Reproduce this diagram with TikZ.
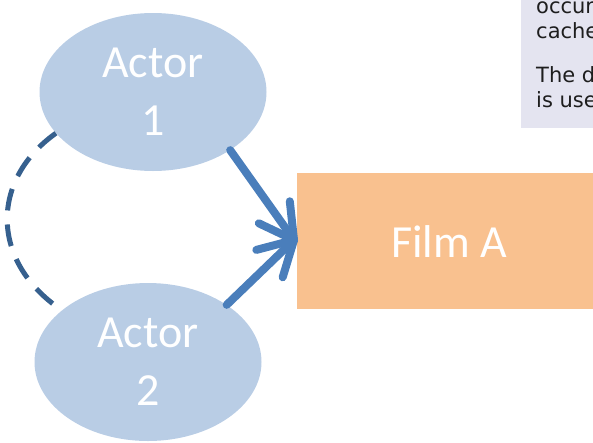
\documentclass[tikz,border=0pt]{standalone}
\usepackage{fontspec}
\setmainfont{Carlito}
\newfontfamily\boxfont{DejaVu Sans}
\usetikzlibrary{calc,shapes.geometric}
\definecolor{actorfill}{HTML}{B9CDE5}
\definecolor{filmfill}{HTML}{F9C18F}
\definecolor{boxfill}{HTML}{E4E4F0}
\definecolor{arrowblue}{HTML}{4A7EBB}
\definecolor{dashblue}{HTML}{36608E}
\definecolor{boxtext}{HTML}{1E1E1E}
\tikzset{
  actor/.style={ellipse, fill=actorfill, minimum width=227pt, minimum height=158pt, inner sep=0pt,
    text=white, font=\fontsize{46}{58}\selectfont, align=center},
  film/.style={rectangle, fill=filmfill, minimum width=304pt, minimum height=136pt, inner sep=0pt,
    text=white, font=\fontsize{46}{56}\selectfont},
  boxline/.style={anchor=base west, inner sep=0pt, text=boxtext, font=\boxfont\fontsize{21}{25}\selectfont},
  link/.style={draw=arrowblue, line width=8pt, line cap=round, line join=round},
  dashlink/.style={draw=dashblue, line width=5pt, dash pattern=on 22pt off 14pt}
}
\begin{document}
\begin{tikzpicture}[x=1pt,y=-1pt]
\useasboundingbox (0,0) rectangle (593,442);
\clip (0,0) rectangle (593,442);
% text box
\fill[boxfill] (521,-5) rectangle (600,128);
\node[boxline] (t1) at (536,13) {occur};
\node[boxline] (t2) at (536,38) {cache};
\node[boxline] (t3) at (536,82) {The d};
\node[boxline] (t4) at (536,107) {is use};
% nodes
\node[actor] (a1) at (153,92) {Actor\\1};
\node[actor] (a2) at (148,362) {Actor\\2};
\node[film, anchor=north west] (f) at (297,173) {Film A};
\coordinate (fa) at (294,240);
% connectors
\coordinate (s1) at (a1.-37);
\coordinate (s2) at (a2.36);
\coordinate (b1) at ($(fa)!34pt!(s1)$);
\coordinate (b2) at ($(fa)!34pt!(s2)$);
\coordinate (b1l) at ($(b1)!19pt!90:(fa)$);
\coordinate (b1r) at ($(b1)!19pt!-90:(fa)$);
\coordinate (b2l) at ($(b2)!19pt!90:(fa)$);
\coordinate (b2r) at ($(b2)!19pt!-90:(fa)$);
\draw[link] (s1) -- (fa);
\draw[link] (b1l) -- (fa) -- (b1r);
\draw[link] (s2) -- (fa);
\draw[link] (b2l) -- (fa) -- (b2r);
\draw[dashlink] (a1.-157) .. controls (-10,180) and (-10,262) .. (a2.149);
\end{tikzpicture}
\end{document}
